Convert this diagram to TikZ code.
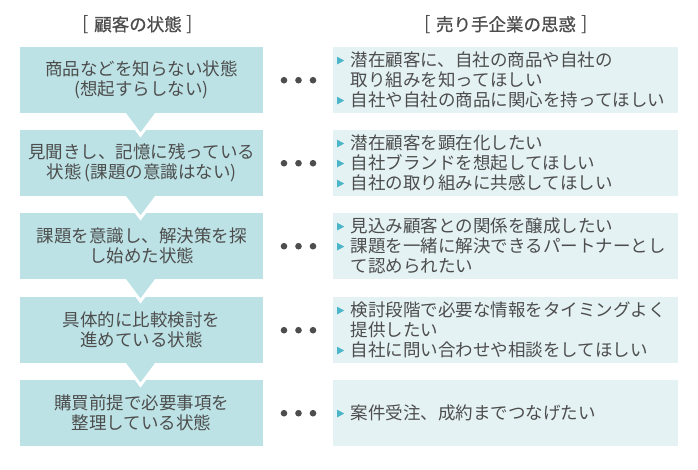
\documentclass[tikz,border=0pt]{standalone}
\usepackage{fontspec}
\setmainfont{Noto Sans CJK JP}
\newfontfamily\headfont[FakeBold=0.8]{Noto Sans CJK JP}
\definecolor{leftc}{HTML}{BCE2E5}
\definecolor{rightc}{HTML}{E4F2F4}
\definecolor{bulc}{HTML}{4BB5C9}
\definecolor{txtc}{HTML}{4D4D4D}
\newcommand\bul{\makebox[13.7pt][l]{\tikz[baseline=0pt]\fill[bulc] (0,2.5pt)--(7pt,6.3pt)--(0,10.1pt)--cycle;}}
\newcommand\ind{\hspace*{13.7pt}}
\newcommand\hd[1]{{\fontsize{19}{20}\selectfont[}\hspace{5pt}{\headfont #1}\hspace{5pt}{\fontsize{19}{20}\selectfont]}}
\begin{document}
\begin{tikzpicture}[x=1pt,y=-1pt,
  lbox/.style={fill=leftc, draw=none, minimum width=243pt, minimum height=66pt, inner sep=0pt, anchor=north west},
  rbox/.style={fill=rightc, draw=none, minimum width=345pt, minimum height=66pt, inner sep=0pt, anchor=north west},
  ltext/.style={align=center, text=txtc, font=\fontsize{17.5}{20}\selectfont, inner sep=0pt},
  rtext/.style={align=left, text=txtc, font=\fontsize{17.5}{20}\selectfont, inner sep=0pt, anchor=west},
  head/.style={text=txtc, font=\fontsize{17.5}{20}\selectfont, inner sep=0pt},
  dot/.style={circle, fill=txtc, minimum size=6.6pt, inner sep=0pt},
  tri/.style={fill=leftc, draw=white, line width=3pt, line join=miter}
]
\useasboundingbox (0,0) rectangle (698,469);
\fill[white] (0,0) rectangle (698,469);

\node[head] (h1) at (138,25) {\hd{顧客の状態}};
\node[head] (h2) at (506,25) {\hd{売り手企業の思惑}};

% left boxes drawn bottom-up with arrows
\node[lbox] (l5) at (20,380) {};
\draw[tri] (124,363) -- (140.5,385) -- (157,363);
\node[lbox] (l4) at (20,297) {};
\draw[tri] (124,279) -- (140.5,301) -- (157,279);
\node[lbox] (l3) at (20,213) {};
\draw[tri] (124,196) -- (140.5,218) -- (157,196);
\node[lbox] (l2) at (20,130) {};
\draw[tri] (124,113) -- (140.5,135) -- (157,113);
\node[lbox] (l1) at (20,47) {};

\node[ltext] (t1) at (l1.center) {商品などを知らない状態\\(想起すらしない)};
\node[ltext] (t2) at (l2.center) {見聞きし、記憶に残っている\\状態\,(課題の意識はない)};
\node[ltext] (t3) at (l3.center) {課題を意識し、解決策を探\\し始めた状態};
\node[ltext] (t4) at (l4.center) {具体的に比較検討を\\進めている状態};
\node[ltext] (t5) at (l5.center) {購買前提で必要事項を\\整理している状態};

% right boxes
\node[rbox] (r1) at (333,47) {};
\node[rbox] (r2) at (333,130) {};
\node[rbox] (r3) at (333,213) {};
\node[rbox] (r4) at (333,297) {};
\node[rbox] (r5) at (333,380) {};

\node[rtext] (s1) at ([xshift=4pt]r1.west) {\bul 潜在顧客に、自社の商品や自社の\\\ind 取り組みを知ってほしい\\\bul 自社や自社の商品に関心を持ってほしい};
\node[rtext] (s2) at ([xshift=4pt]r2.west) {\bul 潜在顧客を顕在化したい\\\bul 自社ブランドを想起してほしい\\\bul 自社の取り組みに共感してほしい};
\node[rtext] (s3) at ([xshift=4pt]r3.west) {\bul 見込み顧客との関係を醸成したい\\\bul 課題を一緒に解決できるパートナーとし\\\ind て認められたい};
\node[rtext] (s4) at ([xshift=4pt]r4.west) {\bul 検討段階で必要な情報をタイミングよく\\\ind 提供したい\\\bul 自社に問い合わせや相談をしてほしい};
\node[rtext] (s5) at ([xshift=4pt]r5.west) {\bul 案件受注、成約までつなげたい};

% dots
\foreach \i in {1,...,5}{
  \path (l\i.center) coordinate (c\i);
  \node[dot] (d\i a) at (284,0 |- c\i) {};
  \node[dot] (d\i b) at (298.5,0 |- c\i) {};
  \node[dot] (d\i c) at (313,0 |- c\i) {};
}
\end{tikzpicture}
\end{document}
